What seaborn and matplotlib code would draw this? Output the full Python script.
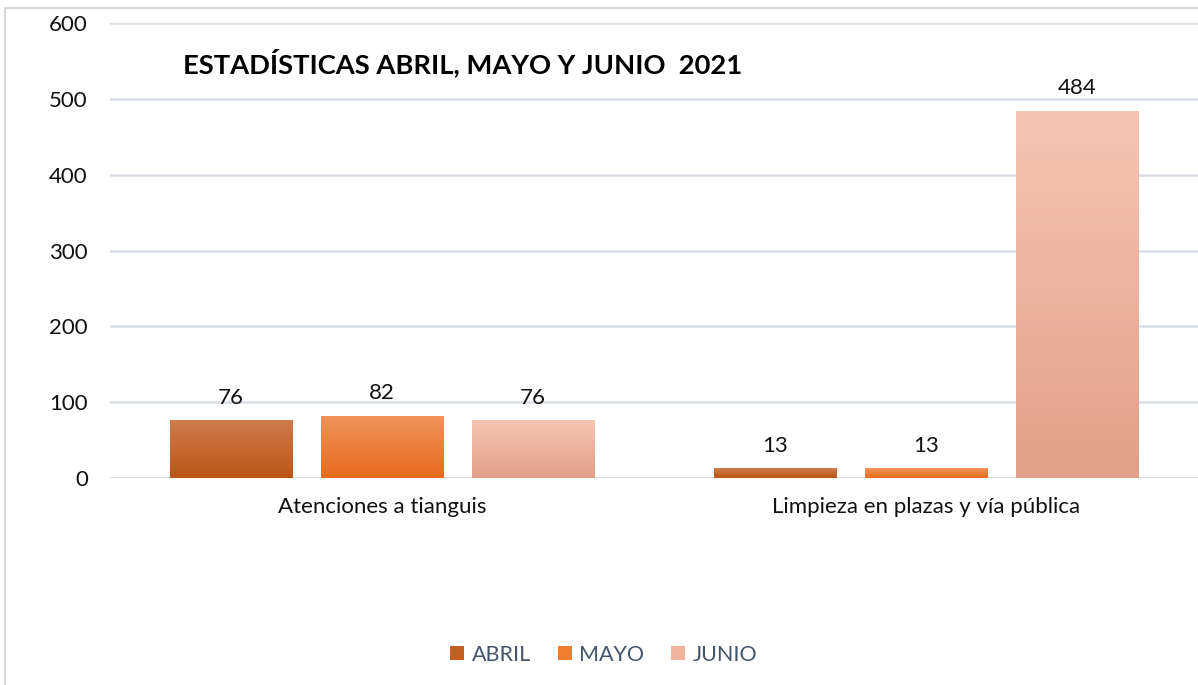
import numpy as np
import pandas as pd
import seaborn as sns
import matplotlib.pyplot as plt
from matplotlib.colors import LinearSegmentedColormap
from matplotlib.patches import Patch, Rectangle

# Data
categorias = ['Atenciones a tianguis', 'Limpieza en plazas y vía pública']
meses = ['ABRIL', 'MAYO', 'JUNIO']
abril = [76, 13]
mayo = [82, 13]
junio = [76, 484]

# gradient colours per month (top, bottom)
grad = {
    'ABRIL': ('#CF7B4D', '#BD5614'),
    'MAYO': ('#F1935C', '#E66B1B'),
    'JUNIO': ('#F6C5B2', '#E1A089'),
}
base = {m: c[1] for m, c in grad.items()}
mid = {'ABRIL': '#C65F22', 'MAYO': '#EF7E2E', 'JUNIO': '#F0B49E'}

df = pd.DataFrame({
    'categoria': categorias * 3,
    'mes': ['ABRIL'] * 2 + ['MAYO'] * 2 + ['JUNIO'] * 2,
    'valor': abril + mayo + junio,
})

sns.set_style('white')
plt.rcParams['font.family'] = ['Lato', 'DejaVu Sans']

fig = plt.figure(figsize=(11.98, 6.85), dpi=100)
ax = fig.add_axes([0.0918, 0.3022, 0.9082, 0.6642])

sns.barplot(data=df, x='categoria', y='valor', hue='mes', hue_order=meses,
            palette=base, width=0.833, gap=0.19, legend=False, ax=ax,
            linewidth=0, edgecolor='none')

# gradient fill clipped to each bar
for cont, mes in zip(ax.containers, meses):
    cmap = LinearSegmentedColormap.from_list(mes, [grad[mes][1], grad[mes][0]])
    for bar in cont:
        x0, w, h = bar.get_x(), bar.get_width(), bar.get_height()
        img = ax.imshow(np.linspace(0, 1, 100).reshape(-1, 1), cmap=cmap,
                        origin='lower', aspect='auto',
                        extent=[x0, x0 + w, 0, h], zorder=bar.get_zorder() + 0.1)
        img.set_clip_path(bar)
    ax.bar_label(cont, padding=9, fontsize=16, color='#111111')

ax.set_xlim(-0.5, 1.5)
ax.set_ylim(0, 600)
ax.set_yticks(range(0, 601, 100))
ax.yaxis.grid(True, color='#D9DEE6', linewidth=1.8)
ax.set_axisbelow(True)
for s in ax.spines.values():
    s.set_visible(False)
ax.axhline(0, color='#D9DEE6', linewidth=1.8, zorder=0.5)
ax.tick_params(axis='y', labelsize=16, pad=16, length=0, labelcolor='#111111')
ax.tick_params(axis='x', labelsize=16, pad=14, length=0, labelcolor='#111111')
ax.set_xlabel('')
ax.set_ylabel('')

fig.text(0.153, 0.909, 'ESTADÍSTICAS ABRIL, MAYO Y JUNIO  2021', fontsize=19.7,
         fontweight='bold', ha='left', va='center', color='#000000')

handles = [Patch(facecolor=mid[m], edgecolor='none') for m in meses]
fig.legend(handles, meses, loc='center', bbox_to_anchor=(0.504, 0.044), ncol=3,
           frameon=False, fontsize=15.5, labelcolor='#44546A', handlelength=0.65,
           handleheight=0.65, handletextpad=0.35, columnspacing=1.25)

# outer chart border
fig.patches.append(Rectangle((0.004, -0.01), 1.0, 0.998, transform=fig.transFigure,
                             fill=False, edgecolor='#D9D9D9', linewidth=1.5))

fig.savefig('out.png', dpi=100)
